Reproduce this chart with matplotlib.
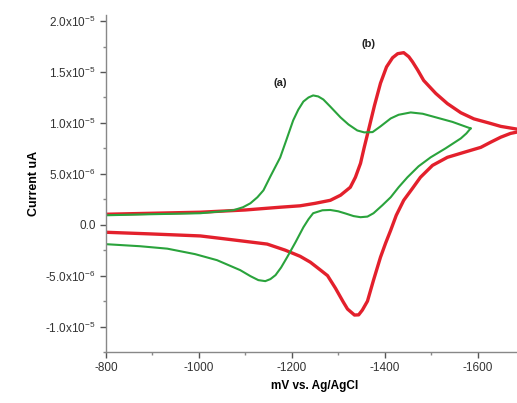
import matplotlib
matplotlib.use("Agg")
import matplotlib.pyplot as plt
from matplotlib.ticker import FixedLocator, MultipleLocator

# ---- data (potential in mV, current in units of 1e-6) ----
red_fwd_x = [-800, -1003, -1100, -1175, -1218, -1250, -1283, -1305, -1326, -1337,
             -1348, -1356, -1365, -1378, -1391, -1404, -1417, -1428, -1441, -1452,
             -1460, -1471, -1484, -1510, -1535, -1564, -1592, -1624, -1650, -1702]
red_fwd_y = [1.03, 1.23, 1.45, 1.72, 1.86, 2.1, 2.40, 2.9, 3.68, 4.66,
             6.03, 7.6, 9.26, 11.7, 13.9, 15.5, 16.4, 16.8, 16.9, 16.5,
             16.0, 15.2, 14.17, 12.9, 11.9, 11.0, 10.4, 10.0, 9.66, 9.26]
red_rev_x = [-1702, -1671, -1650, -1628, -1607, -1570, -1535, -1503, -1477, -1460,
             -1441, -1425, -1413, -1402, -1391, -1376, -1363, -1352, -1344, -1335,
             -1320, -1311, -1294, -1277, -1262, -1240, -1218, -1186, -1147, -1067,
             -1003, -895, -800]
red_rev_y = [9.26, 8.97, 8.6, 8.1, 7.6, 7.1, 6.62, 5.83, 4.66, 3.58,
             2.40, 0.93, -0.54, -1.81, -3.19, -5.44, -7.5, -8.38, -8.85, -8.87,
             -8.28, -7.6, -6.23, -5.0, -4.46, -3.68, -3.1, -2.5, -1.9, -1.45,
             -1.1, -0.9, -0.74]

grn_fwd_x = [-800, -895, -1003, -1074, -1095, -1111, -1126, -1139, -1154, -1175,
             -1188, -1203, -1214, -1225, -1236, -1246, -1257, -1268, -1283, -1305,
             -1322, -1341, -1356, -1374, -1391, -1413, -1430, -1456, -1482, -1514,
             -1546, -1585]
grn_fwd_y = [0.93, 1.03, 1.13, 1.42, 1.72, 2.11, 2.70, 3.38, 4.75, 6.6,
             8.28, 10.25, 11.3, 12.1, 12.5, 12.7, 12.6, 12.3, 11.6, 10.54,
             9.85, 9.26, 9.07, 9.1, 9.66, 10.44, 10.8, 11.03, 10.9, 10.5,
             10.1, 9.46]
grn_rev_x = [-1585, -1576, -1564, -1531, -1499, -1473, -1449, -1430, -1413, -1395,
             -1376, -1363, -1348, -1333, -1316, -1300, -1283, -1266, -1246, -1236,
             -1225, -1208, -1190, -1177, -1165, -1154, -1143, -1128, -1111, -1089,
             -1039, -992, -932, -873, -800]
grn_rev_y = [9.46, 8.97, 8.48, 7.5, 6.62, 5.74, 4.66, 3.68, 2.70, 1.91,
             1.13, 0.8, 0.74, 0.85, 1.1, 1.32, 1.45, 1.42, 1.13, 0.54,
             -0.25, -1.72, -3.19, -4.2, -4.95, -5.34, -5.54, -5.44, -5.05, -4.46,
             -3.48, -2.89, -2.35, -2.11, -1.91]

ytick_vals = [-10, -5, 0, 5, 10, 15, 20]
ytick_labels = ["-1.0x10$^{-5}$", "-5.0x10$^{-6}$", "0.0", "5.0x10$^{-6}$",
                "1.0x10$^{-5}$", "1.5x10$^{-5}$", "2.0x10$^{-5}$"]
xtick_vals = [-800, -1000, -1200, -1400, -1600]
xtick_labels = ["-800", "-1000", "-1200", "-1400", "-1600"]

plt.rcParams['font.family'] = ['Liberation Sans', 'DejaVu Sans']
plt.rcParams['mathtext.fontset'] = 'custom'
plt.rcParams['mathtext.rm'] = 'Liberation Sans'

fig = plt.figure(figsize=(5.17, 4.03), dpi=100)
ax = fig.add_axes([106/517, 1-352/403, (524-106)/517, (352-15)/403])

red = '#e3202c'
green = '#2aa33c'
sc = 1e-6
ax.plot(red_fwd_x, [v*sc for v in red_fwd_y], color=red, lw=2.4, solid_joinstyle='round')
ax.plot(red_rev_x, [v*sc for v in red_rev_y], color=red, lw=2.4, solid_joinstyle='round')
ax.plot(grn_fwd_x, [v*sc for v in grn_fwd_y], color=green, lw=1.5, solid_joinstyle='round')
ax.plot(grn_rev_x, [v*sc for v in grn_rev_y], color=green, lw=1.5, solid_joinstyle='round')

ax.text(-1175, 13.9*sc, "(a)", fontsize=8, fontweight='bold', ha='center', va='center', color='#222222')
ax.text(-1365, 17.8*sc, "(b)", fontsize=8, fontweight='bold', ha='center', va='center', color='#222222')

ax.set_xlim(-800, -1700)
ax.set_ylim(-12.5*sc, 20.6*sc)

ax.yaxis.set_major_locator(FixedLocator([v*sc for v in ytick_vals]))
ax.set_yticklabels(ytick_labels)
ax.yaxis.set_minor_locator(MultipleLocator(2.5*sc))
ax.xaxis.set_major_locator(FixedLocator(xtick_vals))
ax.set_xticklabels(xtick_labels)
ax.xaxis.set_minor_locator(MultipleLocator(100))

for s in ['top', 'right']:
    ax.spines[s].set_visible(False)
for s in ['left', 'bottom']:
    ax.spines[s].set_color('#888888')
    ax.spines[s].set_linewidth(1.0)
ax.tick_params(which='major', length=4, width=1, color='#555555', labelsize=8.5, labelcolor='#333333')
ax.tick_params(which='minor', length=2, width=1, color='#888888')

ax.set_ylabel("Current uA", fontsize=9, fontweight='bold', labelpad=4)
ax.set_xlabel("mV vs. Ag/AgCl", fontsize=8.5, fontweight='bold', labelpad=4)

fig.savefig("out.png", dpi=100)
